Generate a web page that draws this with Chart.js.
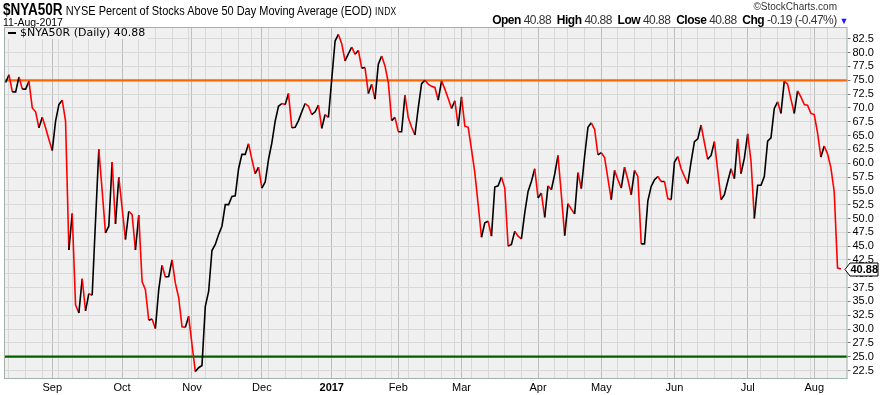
<!DOCTYPE html>
<html>
<head>
<meta charset="utf-8">
<title>$NYA50R</title>
<script src="https://cdn.jsdelivr.net/npm/chart.js@4.4.1/dist/chart.umd.min.js"></script>
<style>
  html, body { margin: 0; padding: 0; background: #fff; }
  #wrap { position: relative; width: 881px; height: 395px; overflow: hidden; }
  #chart { position: absolute; left: 0; top: 0; }
  .hdr { position: absolute; white-space: nowrap; font-family: "Liberation Sans", Arial, sans-serif; color: #000; line-height: 1; }
  #title { left: 3px; top: 2px; font-size: 13px; transform: scaleX(0.845); transform-origin: 0 0; }
  #title b { font-size: 16px; }
  #title small { font-size: 10px; letter-spacing: 0.4px; }
  #date { left: 3px; top: 17px; font-size: 10.5px; }
  #brand { right: 44px; top: 2px; font-size: 10px; color: #333; }
  #quote { right: 33px; top: 14px; font-size: 12px; letter-spacing: -0.5px; }
  #quote span { color: #333; }
  #quote i { font-style: normal; color: #1a1aff; font-size: 9px; }
</style>
</head>
<body>
<div id="wrap">
  <canvas id="chart" width="881" height="395"></canvas>
  <div class="hdr" id="title"><b>$NYA50R</b> NYSE Percent of Stocks Above 50 Day Moving Average (EOD) <small>INDX</small></div>
  <div class="hdr" id="date">11-Aug-2017</div>
  <div class="hdr" id="brand">&copy;StockCharts.com</div>
  <div class="hdr" id="quote"><b>Open</b> <span>40.88</span>&nbsp; <b>High</b> <span>40.88</span>&nbsp; <b>Low</b> <span>40.88</span>&nbsp; <b>Close</b> <span>40.88</span>&nbsp; <b>Chg</b> <span>-0.19 (-0.47%)</span> <i>&#9660;</i></div>
</div>
<script>
// Daily closes, one per trading day, 12-Aug-2016 .. 11-Aug-2017
const closes2016Q3 = [
  74.6, 76.0, 72.9, 72.9, 75.6, 73.4, 73.4, 74.8, 70.0, 69.3, 66.4, 68.3, 66.4, 64.3,
  62.3, 67.6, 70.6, 71.4, 67.6, 44.3, 50.9, 34.4, 32.9, 39.1, 33.3, 36.4, 36.1, 49.5,
  62.5, 55.0, 47.4, 48.6, 60.2, 49.0, 57.5
];
const closes2016Q4 = [
  51.9, 46.2, 51.3, 50.7, 44.3, 50.6, 38.6, 37.1, 31.6, 31.8, 30.1, 37.1, 41.5, 39.4,
  39.5, 42.5, 38.3, 35.7, 30.4, 30.3, 32.3, 27.2, 22.3, 23.0, 23.4, 34.1, 36.8, 44.2,
  45.3, 47.1, 48.6, 52.5, 52.5, 54.0, 54.1, 59.0, 61.6, 61.6, 63.5, 60.7, 58.1, 59.3,
  55.5, 56.6, 60.7, 63.7, 67.6, 70.3, 70.8, 70.6, 72.6, 66.4, 66.5, 67.7, 69.3, 70.8,
  70.3, 68.8, 69.3, 70.5, 66.3, 68.8, 68.3
];
const closes2017Q1 = [
  75.2, 82.1, 83.3, 81.6, 78.5, 79.8, 81.0, 79.7, 80.4, 77.2, 77.3, 72.6, 74.3, 71.6,
  77.9, 79.4, 77.6, 74.6, 67.7, 68.3, 65.7, 65.7, 72.3, 68.2, 66.5, 65.1, 70.0, 74.4,
  75.0, 74.3, 73.9, 73.7, 71.4, 74.9, 73.4, 71.7, 69.9, 71.3, 66.7, 72.0, 66.7, 66.5,
  62.5, 58.3, 52.5, 46.6, 49.2, 49.5, 46.8, 55.7, 55.9, 57.5, 55.5, 45.0, 45.3, 47.7,
  46.8, 46.3, 51.0, 54.9, 56.7, 59.0
];
const closes2017Q2 = [
  53.7, 54.6, 50.2, 55.9, 55.2, 58.0, 61.4, 54.3, 46.9, 52.7, 51.7, 50.8, 58.3, 55.4,
  61.3, 66.5, 67.3, 66.1, 61.5, 61.9, 61.0, 57.2, 53.4, 58.7, 57.0, 55.5, 59.3, 57.0,
  54.3, 58.7, 57.6, 45.4, 45.4, 53.2, 55.8, 57.0, 57.6, 56.7, 56.7, 53.6, 53.4, 60.2,
  61.2, 59.0, 57.6, 56.3, 60.3, 63.9, 64.4, 66.9, 63.7, 60.7, 61.4, 63.9, 58.6, 53.4,
  54.3, 56.7, 59.0, 57.2, 64.4, 58.1, 60.9
];
const closes2017Q3 = [
  65.3, 60.4, 50.0, 56.0, 56.0, 57.6, 64.0, 64.6, 69.9, 71.1, 69.0, 74.8, 74.3, 71.6,
  69.0, 73.1, 72.0, 70.6, 70.5, 69.0, 68.8, 65.5, 61.1, 63.1, 61.7, 59.2, 54.9, 41.07,
  40.88
];
const closes = [...closes2016Q3, ...closes2016Q4, ...closes2017Q1, ...closes2017Q2, ...closes2017Q3];

const monthLabels = ['Sep', 'Oct', 'Nov', 'Dec', '2017', 'Feb', 'Mar', 'Apr', 'May', 'Jun', 'Jul', 'Aug'];
const refLevels = [75, 25];
const refColors = ['#ff6400', '#006000'];

// trading calendar, used for month labels and weekly grid lines
const firstDay = Date.UTC(2016, 7, 12);
const holidays = ['2016-09-05', '2016-11-24', '2016-12-26', '2017-01-02', '2017-01-16',
  '2017-02-20', '2017-04-14', '2017-05-29', '2017-07-04'];

const days = [];
for (let t = firstDay; days.length < closes.length; t += 86400000) {
  const d = new Date(t);
  const wd = d.getUTCDay();
  if (wd === 0 || wd === 6) continue;
  if (holidays.includes(d.toISOString().slice(0, 10))) continue;
  days.push(d);
}

const monthStarts = [];
const weekStarts = [];
days.forEach((d, i) => {
  if (i === 0) return;
  const prev = days[i - 1];
  if (d.getUTCMonth() !== prev.getUTCMonth()) monthStarts.push(i);
  if (d.getUTCDay() <= prev.getUTCDay()) weekStarts.push(i);
});
const monthLabelAt = {};
monthStarts.forEach((idx, k) => { monthLabelAt[idx] = monthLabels[k]; });
const gridDays = [...new Set([...weekStarts, ...monthStarts])].sort((a, b) => a - b);

const PLOT_BG = '#f0f0f0';
const FRAME = '#a2b2ab';

const plotBackground = {
  id: 'plotBackground',
  beforeDraw(chart) {
    const { ctx, chartArea: a } = chart;
    ctx.save();
    ctx.fillStyle = PLOT_BG;
    ctx.fillRect(a.left, a.top, a.right - a.left, a.bottom - a.top);
    ctx.restore();
  }
};

const refLines = {
  id: 'refLines',
  beforeDatasetsDraw(chart) {
    const { ctx, chartArea: a, scales } = chart;
    ctx.save();
    refLevels.forEach((lvl, k) => {
      const y = scales.y.getPixelForValue(lvl);
      ctx.strokeStyle = refColors[k];
      ctx.lineWidth = 2.2;
      ctx.beginPath();
      ctx.moveTo(a.left, y);
      ctx.lineTo(a.right, y);
      ctx.stroke();
    });
    ctx.restore();
  }
};

const overlay = {
  id: 'overlay',
  afterDraw(chart) {
    const { ctx, chartArea: a, scales } = chart;
    const last = closes[closes.length - 1];
    ctx.save();

    // frame
    ctx.strokeStyle = FRAME;
    ctx.lineWidth = 1;
    ctx.strokeRect(a.left + 0.5, a.top + 0.5, a.right - a.left - 1, a.bottom - a.top - 1);

    // legend in the corner
    ctx.fillStyle = PLOT_BG;
    ctx.fillRect(a.left + 2, a.top + 1, 142, 11);
    ctx.fillStyle = '#000';
    ctx.fillRect(a.left + 4, a.top + 5, 8, 2);
    ctx.font = '11px "DejaVu Sans"';
    ctx.textBaseline = 'middle';
    ctx.fillText('$NYA50R (Daily) ' + last.toFixed(2), a.left + 16, a.top + 6.5);

    // last value tag on the axis
    const y = Math.round(scales.y.getPixelForValue(last)) + 0.5;
    const x0 = a.right - 2.5;
    ctx.beginPath();
    ctx.moveTo(x0, y);
    ctx.lineTo(x0 + 5, y - 6.5);
    ctx.lineTo(x0 + 33, y - 6.5);
    ctx.lineTo(x0 + 33, y + 6.5);
    ctx.lineTo(x0 + 5, y + 6.5);
    ctx.closePath();
    ctx.fillStyle = '#fff';
    ctx.fill();
    ctx.strokeStyle = '#000';
    ctx.stroke();
    ctx.fillStyle = '#000';
    ctx.font = 'bold 11px "Liberation Sans"';
    ctx.textAlign = 'left';
    ctx.fillText(last.toFixed(2), x0 + 5.5, y + 0.5);
    ctx.restore();
  }
};

new Chart(document.getElementById('chart'), {
  type: 'line',
  data: {
    datasets: [{
      label: '$NYA50R',
      data: closes.map((v, i) => ({ x: i, y: v })),
      borderColor: '#000',
      borderWidth: 1.6,
      pointRadius: 0,
      tension: 0,
      segment: {
        borderColor: c => c.p1.parsed.y < c.p0.parsed.y ? '#ff0000' : '#000000'
      }
    }]
  },
  options: {
    responsive: false,
    animation: false,
    devicePixelRatio: 1,
    layout: { padding: { left: 4, top: 27, right: 0, bottom: 0 } },
    plugins: {
      legend: { display: false },
      tooltip: { enabled: false }
    },
    scales: {
      x: {
        type: 'linear',
        min: -0.5,
        max: 253,
        afterBuildTicks: s => { s.ticks = gridDays.map(v => ({ value: v })); },
        afterFit: s => { s.height = 16; },
        ticks: {
          autoSkip: false,
          maxRotation: 0,
          padding: 2,
          color: '#000',
          font: c => ({
            family: 'Liberation Sans',
            size: 11,
            weight: monthLabelAt[c.tick && c.tick.value] === '2017' ? 'bold' : 'normal'
          }),
          callback: v => monthLabelAt[v] || ''
        },
        grid: {
          drawTicks: false,
          color: c => (c.tick && monthLabelAt[c.tick.value]) ? '#bdbdbd' : '#d8d8d8'
        },
        border: { display: false }
      },
      y: {
        position: 'right',
        min: 20.96,
        max: 84.64,
        afterFit: s => { s.width = 33.5; },
        ticks: {
          stepSize: 2.5,
          maxTicksLimit: 40,
          autoSkip: false,
          includeBounds: false,
          padding: 2,
          color: '#000',
          font: { family: 'Liberation Sans', size: 11 },
          callback: v => v.toFixed(1)
        },
        grid: { color: '#d8d8d8', tickColor: '#777', tickLength: 3 },
        border: { display: false }
      }
    }
  },
  plugins: [plotBackground, refLines, overlay]
});
</script>
</body>
</html>
